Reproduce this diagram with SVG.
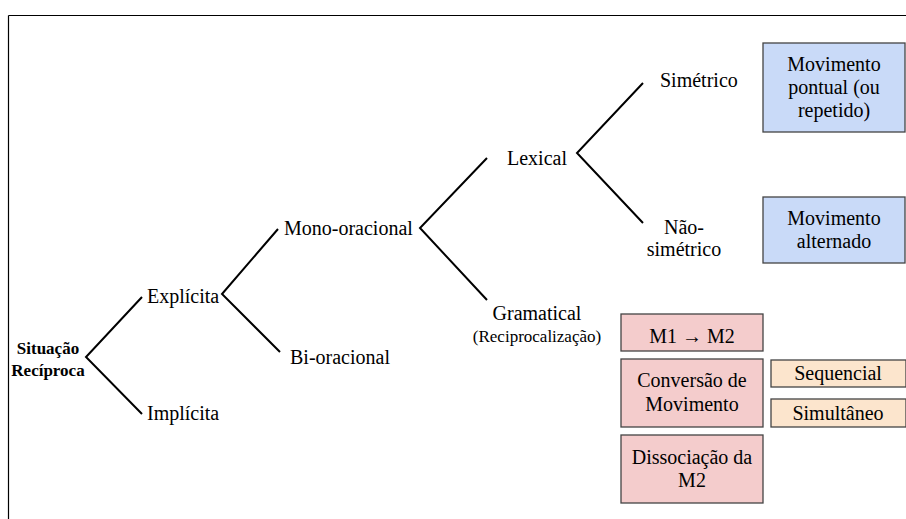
<svg xmlns="http://www.w3.org/2000/svg" width="906" height="519" viewBox="0 0 906 519">
<style>
text{font-family:"Liberation Serif","DejaVu Serif","Noto Serif",Times,serif;font-size:20px;fill:#000}
.b{font-weight:bold;font-size:17px}
.s{font-size:17px}
.m{text-anchor:middle}
.blue{fill:#c9daf8;stroke:#444;stroke-width:1.3}
.pink{fill:#f4cccc;stroke:#444;stroke-width:1.3}
.org{fill:#fce5cd;stroke:#444;stroke-width:1.3}
#connectors path{fill:none;stroke:#000;stroke-width:2}
</style>
<rect x="0" y="0" width="906" height="519" fill="#fff"/>
<path d="M8.5 15.5H906M8.5 15.5V519" fill="none" stroke="#000" stroke-width="1.2"/>
<g id="connectors">
<path d="M142 297L86 357L142 414"/>
<path d="M278 229L222 294L280 352"/>
<path d="M487 158L420 228L487 300"/>
<path d="M643 83L577 153L643 223"/>
</g>
<g id="situacao"><text class="b m" x="48" y="354">Situação</text><text class="b m" x="48" y="376">Recíproca</text></g>
<g id="explicita"><text x="147" y="303">Explícita</text></g>
<g id="implicita"><text x="147" y="420">Implícita</text></g>
<g id="mono"><text x="284" y="235">Mono-oracional</text></g>
<g id="bi"><text x="290" y="364">Bi-oracional</text></g>
<g id="lexical"><text x="507" y="165">Lexical</text></g>
<g id="gramatical"><text class="m" x="537" y="320">Gramatical</text><text class="s m" x="537" y="342">(Reciprocalização)</text></g>
<g id="simetrico"><text x="660" y="87">Simétrico</text></g>
<g id="naosimetrico"><text class="m" x="684" y="234">Não-</text><text class="m" x="684" y="256">simétrico</text></g>
<g id="pontual"><rect class="blue" x="763" y="43" width="142" height="89"/><text class="m" x="834" y="71">Movimento</text><text class="m" x="834" y="94">pontual (ou</text><text class="m" x="834" y="117">repetido)</text></g>
<g id="alternado"><rect class="blue" x="763" y="197" width="142" height="66"/><text class="m" x="834" y="225">Movimento</text><text class="m" x="834" y="248">alternado</text></g>
<g id="m1m2"><rect class="pink" x="621" y="314" width="142" height="37"/><text class="m" x="692" y="343">M1 → M2</text></g>
<g id="conversao"><rect class="pink" x="621" y="359" width="142" height="68"/><text class="m" x="692" y="387">Conversão de</text><text class="m" x="692" y="411">Movimento</text></g>
<g id="dissociacao"><rect class="pink" x="621" y="435" width="142" height="68"/><text class="m" x="692" y="464">Dissociação da</text><text class="m" x="692" y="487">M2</text></g>
<g id="sequencial"><rect class="org" x="771" y="360" width="135" height="27"/><text class="m" x="838" y="380">Sequencial</text></g>
<g id="simultaneo"><rect class="org" x="771" y="399" width="135" height="28"/><text class="m" x="838" y="420">Simultâneo</text></g>
</svg>
